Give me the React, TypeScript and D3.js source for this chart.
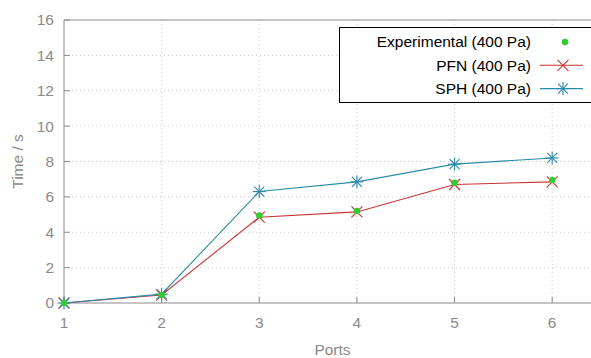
import React from "react";
import * as d3 from "d3";

const ports = [1, 2, 3, 4, 5, 6];
const experimental = [0, 0.45, 4.95, 5.2, 6.8, 6.95];
const pfn = [0, 0.45, 4.85, 5.15, 6.7, 6.85];
const sph = [0, 0.5, 6.3, 6.85, 7.85, 8.2];
const yTicks = [0, 2, 4, 6, 8, 10, 12, 14, 16];
const xTicks = [1, 2, 3, 4, 5, 6];

const W = 591;
const H = 358;
const left = 64;
const right = 601;
const top = 20;
const bottom = 303;

const axisColor = "#8a8a8a";
const gridColor = "#c8c8c8";
const green = "#33cc33";
const red = "#cc3333";
const teal = "#2b8aa8";
const font = "'Liberation Sans', Arial, Helvetica, sans-serif";
const fs = 15.5;

function Cross({ x, y, s, c }: { x: number; y: number; s: number; c: string }) {
  return (
    <g stroke={c} strokeWidth={1.1}>
      <line x1={x - s} y1={y - s} x2={x + s} y2={y + s} />
      <line x1={x - s} y1={y + s} x2={x + s} y2={y - s} />
    </g>
  );
}

function Star({ x, y, s, c }: { x: number; y: number; s: number; c: string }) {
  return (
    <g stroke={c} strokeWidth={1.1}>
      <line x1={x - s} y1={y - s} x2={x + s} y2={y + s} />
      <line x1={x - s} y1={y + s} x2={x + s} y2={y - s} />
      <line x1={x - s * 1.3} y1={y} x2={x + s * 1.3} y2={y} />
      <line x1={x} y1={y - s * 1.3} x2={x} y2={y + s * 1.3} />
    </g>
  );
}

export default function App() {
  const x = d3.scaleLinear().domain([1, 6.5]).range([left, right]);
  const y = d3.scaleLinear().domain([0, 16]).range([bottom, top]);
  const line = d3
    .line<number>()
    .x((_, i) => x(ports[i]))
    .y((d) => y(d));

  const legendRows = [
    { label: "Experimental (400 Pa)", kind: "exp" },
    { label: "PFN (400 Pa)", kind: "pfn" },
    { label: "SPH (400 Pa)", kind: "sph" },
  ];

  return (
    <svg
      width={W}
      height={H}
      style={{ position: "absolute", left: 0, top: 0, background: "#fff" }}
      fontFamily={font}
    >
      <rect width={W} height={H} fill="#fff" />
      {yTicks.slice(1, -1).map((t) => (
        <line
          key={"gy" + t}
          x1={left}
          x2={right}
          y1={y(t)}
          y2={y(t)}
          stroke={gridColor}
          strokeWidth={1}
          strokeDasharray="1,3"
        />
      ))}
      {xTicks.slice(1).map((t) => (
        <line
          key={"gx" + t}
          x1={x(t)}
          x2={x(t)}
          y1={top}
          y2={bottom}
          stroke={gridColor}
          strokeWidth={1}
          strokeDasharray="1,3"
        />
      ))}
      <line x1={left} x2={right} y1={top} y2={top} stroke={axisColor} strokeWidth={1} />
      <line x1={left} x2={right} y1={bottom} y2={bottom} stroke={axisColor} strokeWidth={1} />
      <line x1={left} x2={left} y1={top} y2={bottom} stroke={axisColor} strokeWidth={1} />
      {yTicks.map((t) => (
        <g key={"ty" + t}>
          <line x1={left} x2={left + 6} y1={y(t)} y2={y(t)} stroke={axisColor} />
          <text
            x={left - 10}
            y={y(t)}
            dy="0.35em"
            textAnchor="end"
            fontSize={fs}
            fill={axisColor}
          >
            {t}
          </text>
        </g>
      ))}
      {xTicks.map((t) => (
        <g key={"tx" + t}>
          <line x1={x(t)} x2={x(t)} y1={bottom} y2={bottom - 6} stroke={axisColor} />
          <text
            x={x(t)}
            y={bottom + 20}
            dy="0.35em"
            textAnchor="middle"
            fontSize={fs}
            fill={axisColor}
          >
            {t}
          </text>
        </g>
      ))}
      <text
        x={(left + right) / 2}
        y={350}
        dy="0.35em"
        textAnchor="middle"
        fontSize={fs}
        fill={axisColor}
      >
        Ports
      </text>
      <text
        transform={`translate(18,${(top + bottom) / 2}) rotate(-90)`}
        dy="0.35em"
        textAnchor="middle"
        fontSize={fs}
        fill={axisColor}
      >
        Time / s
      </text>

      <path d={line(pfn) || ""} fill="none" stroke={red} strokeWidth={1.1} />
      <path d={line(sph) || ""} fill="none" stroke={teal} strokeWidth={1.1} />
      {pfn.map((v, i) => (
        <Cross key={"p" + i} x={x(ports[i])} y={y(v)} s={5.5} c={red} />
      ))}
      {sph.map((v, i) => (
        <Star key={"s" + i} x={x(ports[i])} y={y(v)} s={5} c={teal} />
      ))}
      {experimental.map((v, i) => (
        <circle key={"e" + i} cx={x(ports[i])} cy={y(v)} r={3.3} fill={green} />
      ))}

      <rect x={339.5} y={27.5} width={270} height={75} fill="#fff" stroke="#000" strokeWidth={1} />
      {legendRows.map((r, i) => {
        const cy = 42 + i * 23.3;
        return (
          <g key={r.label}>
            <text x={531} y={cy} dy="0.35em" textAnchor="end" fontSize={fs} fill="#000">
              {r.label}
            </text>
            {r.kind === "exp" && <circle cx={565} cy={cy} r={3.3} fill={green} />}
            {r.kind === "pfn" && (
              <g>
                <line x1={540} x2={583} y1={cy} y2={cy} stroke={red} strokeWidth={1.1} />
                <Cross x={563} y={cy} s={5.5} c={red} />
              </g>
            )}
            {r.kind === "sph" && (
              <g>
                <line x1={540} x2={583} y1={cy} y2={cy} stroke={teal} strokeWidth={1.1} />
                <Star x={563} y={cy} s={5} c={teal} />
              </g>
            )}
          </g>
        );
      })}
    </svg>
  );
}
